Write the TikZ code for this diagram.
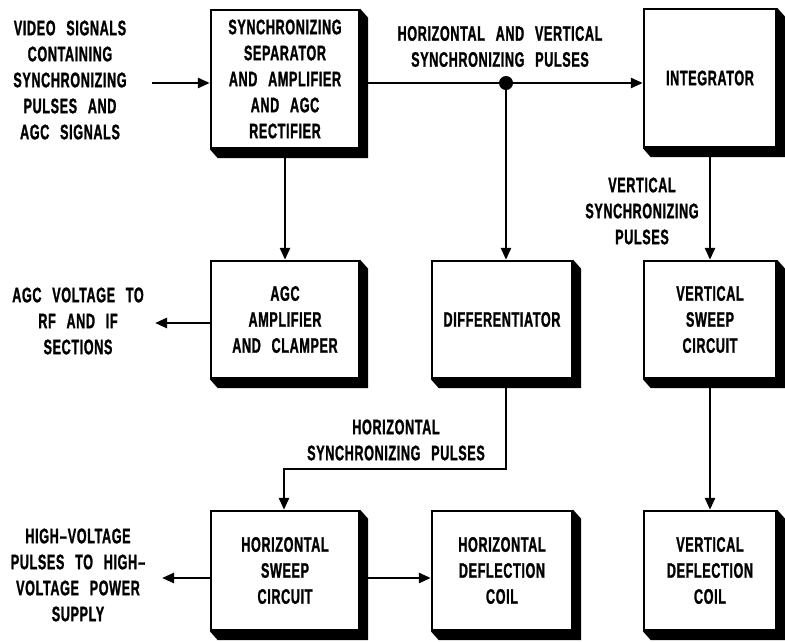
\documentclass[tikz,border=0pt]{standalone}
\usepackage{fontspec}
\setmainfont{Liberation Sans}[FakeStretch=0.6, LetterSpace=3, WordSpace=2.6, FakeBold=1.2]
\usetikzlibrary{arrows.meta}
\tikzset{
  lbl/.style={align=center, inner sep=0pt, font=\bfseries\fontsize{21}{26}\selectfont},
  blk/.style={lbl, draw, line width=2.4pt, fill=white},
  c1/.style={minimum width=148pt},
  c2/.style={minimum width=140pt},
  c3/.style={minimum width=132pt},
  r1/.style={minimum height=138pt},
  r2/.style={minimum height=117pt},
  r3/.style={minimum height=119pt},
  wire/.style={line width=2.6pt},
  arr/.style={wire, -{Triangle[length=12pt,width=10pt]}},
}
\newcommand{\boxshadow}[1]{%
  \fill (#1.north east) -- ([shift={(8,9)}]#1.north east) -- ([shift={(8,9)}]#1.south east)
    -- ([shift={(8,9)}]#1.south west) -- (#1.south west) -- (#1.south east) -- cycle;}
\begin{document}
\begin{tikzpicture}[x=1pt,y=-1pt]
\useasboundingbox (0,0) rectangle (785,641);
% boxes
\node[blk,c1,r1] (A) at (285,79) {SYNCHRONIZING\\SEPARATOR\\AND AMPLIFIER\\AND AGC\\RECTIFIER};
\node[blk,c3,r1] (I) at (710,78) {INTEGRATOR};
\node[blk,c1,r2] (G) at (285,319.5) {AGC\\AMPLIFIER\\AND CLAMPER};
\node[blk,c2,r2] (D) at (502,319.5) {DIFFERENTIATOR};
\node[blk,c3,r2] (V) at (710,319.5) {VERTICAL\\SWEEP\\CIRCUIT};
\node[blk,c1,r3] (H) at (285,570.5) {HORIZONTAL\\SWEEP\\CIRCUIT};
\node[blk,c2,r3] (HD) at (502,570.5) {HORIZONTAL\\DEFLECTION\\COIL};
\node[blk,c3,r3] (VD) at (710,570.5) {VERTICAL\\DEFLECTION\\COIL};
\foreach \n in {A,I,G,D,V,H,HD,VD} {\boxshadow{\n}}
% labels
\node[lbl] (Lin) at (70,80) {VIDEO SIGNALS\\CONTAINING\\SYNCHRONIZING\\PULSES AND\\AGC SIGNALS};
\node[lbl] (Lhv) at (500,46.5) {HORIZONTAL AND VERTICAL\\SYNCHRONIZING PULSES};
\node[lbl] (Lvs) at (642,211) {VERTICAL\\SYNCHRONIZING\\PULSES};
\node[lbl] (Lagc) at (78,321) {AGC VOLTAGE TO\\RF AND IF\\SECTIONS};
\node[lbl] (Lhs) at (396,440) {HORIZONTAL\\SYNCHRONIZING PULSES};
\node[lbl] (Lhvp) at (78,575) {HIGH\kern1pt–\kern1pt VOLTAGE\\PULSES TO HIGH\kern1pt–\\VOLTAGE POWER\\SUPPLY};
% coordinates
\coordinate (in) at (152,83);
\coordinate (agcout) at (155,323);
\coordinate (hvout) at (162,578);
\coordinate (dbend) at (506,469);
\coordinate (hbend) at (284,469);
\node[circle, fill, inner sep=0pt, minimum size=14pt] (j) at (506,83) {};
% connectors
\draw[arr] (in) -- (in -| A.west);
\draw[wire] (j -| A.east) -- (j);
\draw[arr] (j) -- (j -| I.west);
\draw[arr] (j) -- (j |- D.north);
\draw[arr] (A.south) -- (G.north);
\draw[arr] (agcout -| G.west) -- (agcout);
\draw[arr] (I.south) -- (V.north);
\draw[arr] (V.south) -- (VD.north);
\draw[arr] (dbend |- D.south) -- (dbend) -- (hbend) -- (hbend |- H.north);
\draw[arr] (hvout -| H.west) -- (hvout);
\draw[arr] (hvout -| H.east) -- (hvout -| HD.west);
\end{tikzpicture}
\end{document}
